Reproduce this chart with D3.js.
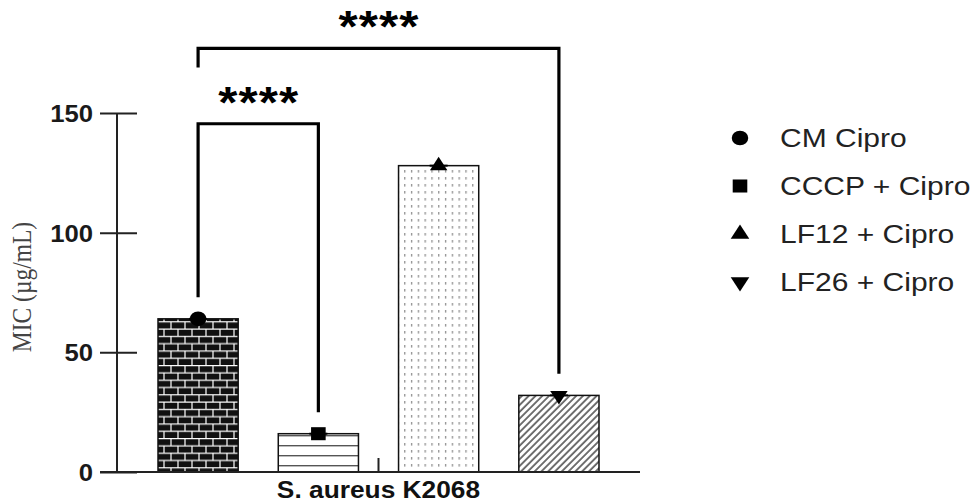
<!DOCTYPE html>
<html lang="en">
<head>
<meta charset="UTF-8">
<title>MIC S. aureus K2068</title>
<script src="https://d3js.org/d3.v7.min.js"></script>
<style>
    body { margin: 0; background: #fff; }
    svg { display: block; font-family: Arial, "Liberation Sans", sans-serif; }
</style>
</head>
<body>
<svg id="chart" width="978" height="502"></svg>
<script>
// data
const groups = ["CM Cipro", "CCCP + Cipro", "LF12 + Cipro", "LF26 + Cipro"];
const micValues = [64, 16, 128, 32];
const markers = ["circle", "square", "triangle", "triangleDown"];
const patterns = ["brick", "hlines", "dots", "hatch"];
const yTicks = [0, 50, 100, 150];
const strain = "S. aureus K2068";
const yTitle = "MIC (\u00b5g/mL)";
const comparisons = [
    { a: "CM Cipro", b: "CCCP + Cipro", label: "****" },
    { a: "CM Cipro", b: "LF26 + Cipro", label: "****" }
];

const SX = 1.12; // the source picture is stretched a bit horizontally
const svg = d3.select("#chart");

const y = d3.scaleLinear().domain([0, 150]).range([472, 113]);
const x = d3.scaleBand().domain(groups).range([158, 599]).paddingInner(1 / 3).paddingOuter(0);
const cx = d => x(d) + x.bandwidth() / 2;

// fill patterns
const defs = svg.append("defs");

const brick = defs.append("pattern").attr("id", "brick")
    .attr("patternUnits", "userSpaceOnUse").attr("width", 14).attr("height", 14.6);
brick.append("rect").attr("width", 14).attr("height", 14.6).attr("fill", "#111");
brick.append("path")
    .attr("d", "M0,0.5H14M0,7.8H14M3,0V7.3M10,7.3V14.6")
    .attr("stroke", "#fff").attr("stroke-width", 1.2);

const hl = defs.append("pattern").attr("id", "hlines")
    .attr("patternUnits", "userSpaceOnUse").attr("width", 10).attr("height", 10);
hl.append("rect").attr("width", 10).attr("height", 10).attr("fill", "#fff");
hl.append("line").attr("x1", 0).attr("x2", 10).attr("y1", 5.7).attr("y2", 5.7)
    .attr("stroke", "#555").attr("stroke-width", 1.4);

const dots = defs.append("pattern").attr("id", "dots")
    .attr("patternUnits", "userSpaceOnUse").attr("width", 6.8).attr("height", 7);
dots.append("rect").attr("width", 6.8).attr("height", 7).attr("fill", "#fff");
dots.append("rect").attr("x", 3).attr("y", 2).attr("width", 1.2).attr("height", 2.6).attr("fill", "#888");

const hatch = defs.append("pattern").attr("id", "hatch")
    .attr("patternUnits", "userSpaceOnUse").attr("width", 4.8).attr("height", 10)
    .attr("patternTransform", "rotate(45)");
hatch.append("rect").attr("width", 4.8).attr("height", 10).attr("fill", "#fff");
hatch.append("line").attr("x1", 1).attr("x2", 1).attr("y1", 0).attr("y2", 10)
    .attr("stroke", "#444").attr("stroke-width", 1.5);

// bars
const data = groups.map((g, i) => ({ g, v: micValues[i], m: markers[i], p: patterns[i] }));

svg.append("g").selectAll("rect").data(data).join("rect")
    .attr("x", d => x(d.g))
    .attr("width", x.bandwidth())
    .attr("y", d => y(d.v))
    .attr("height", d => y(0) - y(d.v))
    .attr("fill", d => `url(#${d.p})`)
    .attr("stroke", "#111").attr("stroke-width", 1.5);

// marker symbols
const symbolPath = (m, size) => {
    if (m === "circle") return d3.symbol(d3.symbolCircle, size)();
    if (m === "square") return d3.symbol(d3.symbolSquare, size)();
    return d3.symbol(d3.symbolTriangle, size * 0.7)();
};
const symRot = m => m === "triangleDown" ? " rotate(180)" : "";

const pts = svg.append("g").selectAll("g").data(data).join("g")
    .attr("transform", d => `translate(${cx(d.g)},${y(d.v)})`);
pts.append("line").attr("x1", -9).attr("x2", 9).attr("stroke", "#000").attr("stroke-width", 2);
pts.append("path")
    .attr("d", d => symbolPath(d.m, d.m.startsWith("tri") ? 150 : 170))
    .attr("transform", d => `scale(${SX},1)${symRot(d.m)}`)
    .attr("fill", "#000");

// y axis
const yAxis = svg.append("g").attr("transform", "translate(117,0)")
    .call(d3.axisLeft(y).tickValues(yTicks).tickSize(17).tickPadding(0));
yAxis.select(".domain").remove();
yAxis.append("line").attr("y1", y(150)).attr("y2", y(0)).attr("stroke", "#222").attr("stroke-width", 2);
yAxis.selectAll(".tick line").attr("stroke", "#222").attr("stroke-width", 2).attr("x2", 20).attr("x1", -17);
yAxis.selectAll(".tick text")
    .attr("x", null).attr("dy", null)
    .attr("transform", "translate(-24,8.5) scale(1.07,1)")
    .attr("font-size", 24).attr("font-weight", "bold")
    .attr("fill", "#1a1a1a");

// x axis
svg.append("line").attr("x1", 100).attr("x2", 640).attr("y1", y(0)).attr("y2", y(0))
    .attr("stroke", "#222").attr("stroke-width", 2);
const xMid = (x.range()[0] + x.range()[1]) / 2;
svg.append("line").attr("x1", xMid).attr("x2", xMid).attr("y1", y(0)).attr("y2", y(0) - 14)
    .attr("stroke", "#222").attr("stroke-width", 2);
svg.append("text")
    .attr("transform", `translate(${xMid},498) scale(${SX},1)`)
    .attr("text-anchor", "middle")
    .attr("font-size", 23.5).attr("font-weight", "bold").attr("fill", "#111")
    .text(strain);

// y title
svg.append("text")
    .attr("transform", "translate(31,287) rotate(-90) scale(1," + SX + ")")
    .attr("text-anchor", "middle")
    .attr("font-family", "'Liberation Serif', 'DejaVu Serif', serif")
    .attr("font-size", 23.5).attr("fill", "#444")
    .text(yTitle);

// significance brackets
const bracketGeom = [
    { top: 145.5, leftEnd: 73, rightEnd: 25 },
    { top: 177, leftEnd: 169, rightEnd: 41 }
];
const br = svg.append("g");
comparisons.forEach((c, i) => {
    const gm = bracketGeom[i];
    const x1 = cx(c.a), x2 = cx(c.b);
    br.append("path")
        .attr("d", `M${x1},${y(gm.leftEnd)}V${y(gm.top)}H${x2}V${y(gm.rightEnd)}`)
        .attr("fill", "none").attr("stroke", "#000").attr("stroke-width", 3.2);
    br.append("text")
        .attr("transform", `translate(${(x1 + x2) / 2 + 0.5},${y(gm.top) - 6}) scale(${SX},1)`)
        .attr("text-anchor", "middle")
        .attr("font-size", 44).attr("font-weight", "bold").attr("letter-spacing", 1)
        .attr("fill", "#000")
        .text(c.label);
});

// legend
const lg = svg.append("g").selectAll("g").data(data).join("g")
    .attr("transform", (d, i) => `translate(740,${138 + i * 48})`);
lg.append("path")
    .attr("d", d => symbolPath(d.m, 170))
    .attr("transform", d => `scale(${SX},1)${symRot(d.m)}`)
    .attr("fill", "#000");
lg.append("text")
    .attr("transform", "translate(40,8.8) scale(1.2,1)")
    .attr("font-size", 25).attr("fill", "#222")
    .text(d => d.g);
</script>
</body>
</html>
